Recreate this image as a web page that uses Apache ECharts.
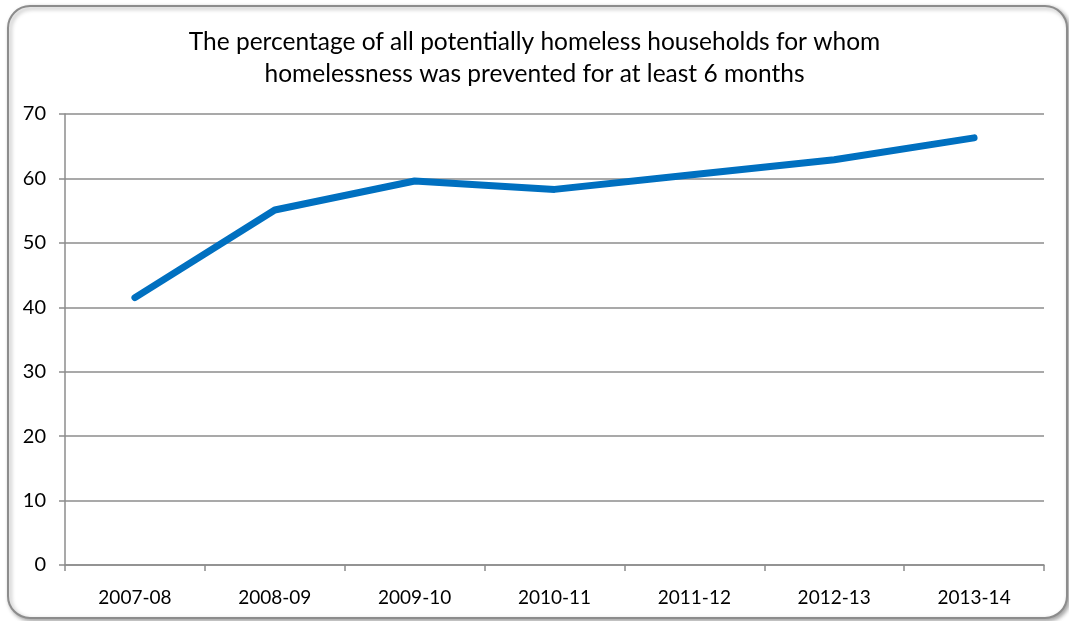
<!DOCTYPE html>
<html>
<head>
<meta charset="utf-8">
<script src="https://cdn.jsdelivr.net/npm/echarts@6/dist/echarts.min.js"></script>
<style>
  html, body { margin: 0; padding: 0; background: #fff; }
  #chart { width: 1069px; height: 621px; }
</style>
</head>
<body>
<div id="chart"></div>
<script>
// Financial years on the category axis
const years = ['2007-08', '2008-09', '2009-10', '2010-11', '2011-12', '2012-13', '2013-14'];
// Share of potentially homeless households where homelessness was prevented (%)
const preventedPct = [41.5, 55.1, 59.6, 58.3, 60.6, 62.9, 66.3];
// Value axis ticks
const yTicks = [0, 10, 20, 30, 40, 50, 60, 70];

const titleText = 'The percentage of all potentially homeless households for whom\nhomelessness was prevented for at least 6 months';
const fontFamily = 'Lato, "Open Sans", "DejaVu Sans", sans-serif';

const chart = echarts.init(document.getElementById('chart'), null, { renderer: 'canvas' });

chart.setOption({
  backgroundColor: '#ffffff',
  animation: false,
  graphic: [
    {
      type: 'rect',
      z: -10,
      shape: { x: 8, y: 6, width: 1059, height: 612, r: 22 },
      style: {
        fill: '#ffffff',
        stroke: '#8c8c8c',
        lineWidth: 2,
        shadowColor: 'rgba(0,0,0,0.35)',
        shadowBlur: 4,
        shadowOffsetX: 2,
        shadowOffsetY: 2
      }
    }
  ],
  title: {
    text: titleText,
    left: 'center',
    top: 21,
    textStyle: {
      fontFamily: fontFamily,
      fontWeight: 'normal',
      fontSize: 24.5,
      lineHeight: 32,
      color: '#000000'
    }
  },
  grid: { left: 65, right: 25, top: 114, bottom: 56 },
  xAxis: {
    type: 'category',
    data: years,
    boundaryGap: true,
    axisLine: { lineStyle: { color: '#8c8c8c', width: 1.5 } },
    axisTick: { show: true, length: 6, lineStyle: { color: '#8c8c8c', width: 1.5 } },
    axisLabel: { fontFamily: fontFamily, fontSize: 19, color: '#000', margin: 23 },
    splitLine: { show: false }
  },
  yAxis: {
    type: 'value',
    min: yTicks[0],
    max: yTicks[yTicks.length - 1],
    interval: 10,
    axisLine: { show: true, lineStyle: { color: '#8c8c8c', width: 1.5 } },
    axisTick: { show: true, length: 6, lineStyle: { color: '#8c8c8c', width: 1.5 } },
    axisLabel: { fontFamily: fontFamily, fontSize: 20, color: '#000', margin: 19 },
    splitLine: { show: true, lineStyle: { color: '#8c8c8c', width: 1.5 } }
  },
  series: [
    {
      type: 'line',
      data: preventedPct,
      symbol: 'none',
      lineStyle: { color: '#0070C0', width: 7, cap: 'round', join: 'round' }
    }
  ]
});
</script>
</body>
</html>
